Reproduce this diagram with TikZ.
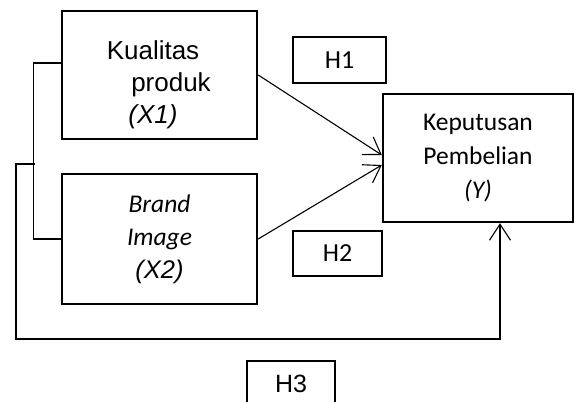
\documentclass[tikz,border=0pt]{standalone}
\usepackage{fontspec}
\setmainfont{Liberation Sans}
\newfontfamily\calibri{Carlito}
\usetikzlibrary{arrows.meta,calc}

\begin{document}
\begin{tikzpicture}[
        x=1pt, y=-1pt,
        varbox/.style={
            draw, line width=2.4pt, inner sep=0pt,
            minimum width=195pt, minimum height=128pt,
            align=center
        },
        hbox/.style={
            draw, line width=1.2pt, inner sep=0pt,
            minimum width=91pt, minimum height=45pt,
            font=\calibri\fontsize{26}{30}\selectfont
        },
        link/.style={line width=1.1pt},
        arrow/.style={link, -{Straight Barb[length=16pt,width=21pt]}}
    ]
    \useasboundingbox (0,0) rectangle (574,402);

    % Variables
    \node[varbox] (x1) at (159.5,75) {};
    \node[align=center, font=\fontsize{26}{32}\selectfont] (x1txt) at (153,85)
        {Kualitas\\\hspace*{36pt}produk\\\textit{(X1)}};

    \node[varbox, minimum height=130pt, font=\fontsize{25.5}{33}\selectfont] (x2) at (159.5,239)
        {{\calibri\itshape Brand}\\{\calibri\itshape Image}\\\textit{(X2)}};

    \node[varbox, minimum width=190pt, font=\calibri\fontsize{25.5}{34}\selectfont] (y) at (478,158)
        {Keputusan\\Pembelian\\\textit{(Y)}};

    % Hypotheses
    \node[hbox, minimum width=93pt, minimum height=46pt] (h1) at (339.5,60) {H1};
    \node[hbox, minimum width=89pt] (h2) at (337.5,253.5) {H2};
    \node[hbox, minimum width=88pt, minimum height=46pt, font=\fontsize{25}{30}\selectfont] (h3) at (291,384) {H3};

    % Partial effects
    \draw[arrow] (x1.east) -- ($(y.west)+(0,-3)$);
    \draw[arrow] (x2.east) -- ($(y.west)+(0,7)$);

    % Simultaneous effect
    \draw[link] ($(x1.west)+(0,-12)$) -- ++(-27,0) |- (x2.west);
    \coordinate (split) at (35,164);
    \coordinate (corner) at (16,339);
    \draw[arrow] (split) -| (corner) -| ($(y.south)+(22,0)$);

\end{tikzpicture}
\end{document}
